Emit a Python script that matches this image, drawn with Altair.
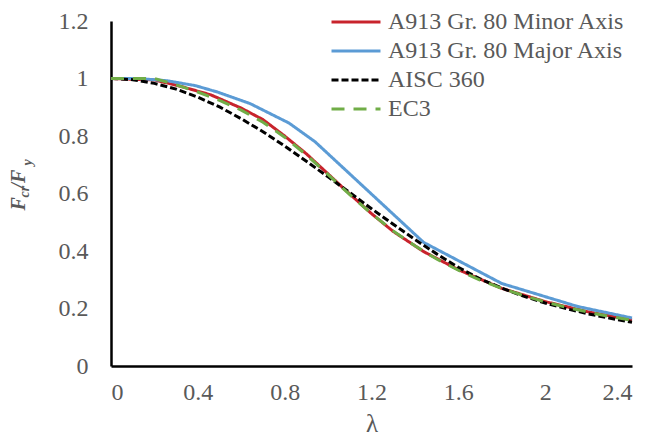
import altair as alt
import pandas as pd

# ---- data ----
minor_x = [0, 0.2, 0.32, 0.46, 0.6, 0.7, 0.8, 0.9, 1.0, 1.1, 1.2, 1.3, 1.44, 1.6, 1.8, 2.0, 2.2, 2.4]
minor_y = [1.0, 0.995, 0.973, 0.943, 0.897, 0.857, 0.80, 0.738, 0.668, 0.598, 0.53, 0.468, 0.398, 0.335, 0.27, 0.224, 0.188, 0.16]

major_x = [0, 0.13, 0.26, 0.39, 0.49, 0.64, 0.82, 0.94, 1.44, 1.8, 2.15, 2.4]
major_y = [1.0, 1.0, 0.992, 0.975, 0.953, 0.913, 0.845, 0.78, 0.43, 0.287, 0.207, 0.167]

aisc_x = [0, 0.1, 0.2, 0.3, 0.4, 0.5, 0.6, 0.7, 0.8, 0.9, 1.0, 1.1, 1.2, 1.3, 1.4, 1.5, 1.6, 1.7, 1.8, 1.9, 2.0, 2.1, 2.2, 2.3, 2.4]
aisc_y = [1.0, 0.996, 0.983, 0.963, 0.935, 0.901, 0.86, 0.815, 0.765, 0.712, 0.658, 0.603, 0.547, 0.493, 0.44, 0.39, 0.343, 0.303, 0.271, 0.243, 0.219, 0.199, 0.181, 0.166, 0.152]

ec3_x = [0, 0.1, 0.2, 0.3, 0.4, 0.5, 0.6, 0.7, 0.8, 0.9, 1.0, 1.1, 1.2, 1.3, 1.4, 1.5, 1.6, 1.7, 1.8, 1.9, 2.0, 2.1, 2.2, 2.3, 2.4]
ec3_y = [1.0, 1.0, 1.0, 0.978, 0.953, 0.924, 0.89, 0.848, 0.796, 0.734, 0.666, 0.596, 0.53, 0.47, 0.418, 0.372, 0.333, 0.299, 0.27, 0.245, 0.223, 0.204, 0.187, 0.172, 0.159]

series_names = ["A913 Gr. 80 Minor Axis", "A913 Gr. 80 Major Axis", "AISC 360", "EC3"]
series_colors = ["#C8232C", "#5B9BD5", "#000000", "#70AD47"]
series_dashes = [[1, 0], [1, 0], [7, 3], [13, 9]]
series_widths = [3, 3, 3.5, 3]

x_ticks = [0, 0.4, 0.8, 1.2, 1.6, 2.0, 2.4]
y_ticks = [0, 0.2, 0.4, 0.6, 0.8, 1.0, 1.2]

rows = []
for name, xs, ys in zip(series_names, [minor_x, major_x, aisc_x, ec3_x], [minor_y, major_y, aisc_y, ec3_y]):
    for i, (a, b) in enumerate(zip(xs, ys)):
        rows.append({"lam": a, "val": b, "series": name, "order": i})
df = pd.DataFrame(rows)

FONT = "Liberation Serif, Times New Roman, serif"
GREY = "#595959"

legend = alt.Legend(
    title=None, orient="none", legendX=231, legendY=-13,
    labelFont=FONT, labelFontSize=24, labelColor=GREY, labelLimit=0,
    symbolType="M-2,0L2,0", symbolSize=600, symbolStrokeWidth=3,
    labelOffset=18, rowPadding=3, padding=0,
)

lines = alt.Chart(df).mark_line().encode(
    x=alt.X("lam:Q", scale=alt.Scale(domain=[0, 2.4], nice=False),
            axis=alt.Axis(values=x_ticks, format="~g", title="λ", grid=False, ticks=False,
                          domainColor="black", domainWidth=2.5,
                          labelFont=FONT, labelFontSize=24, labelColor=GREY, labelPadding=14,
                          titleFont=FONT, titleFontSize=25, titleColor=GREY, titleFontWeight="normal",
                          titlePadding=7)),
    y=alt.Y("val:Q", scale=alt.Scale(domain=[0, 1.2], nice=False),
            axis=alt.Axis(values=y_ticks, format="~g", title=None, grid=False, ticks=False,
                          domainColor="black", domainWidth=2.5,
                          labelFont=FONT, labelFontSize=24, labelColor=GREY, labelPadding=23)),
    color=alt.Color("series:N", scale=alt.Scale(domain=series_names, range=series_colors), legend=legend),
    strokeDash=alt.StrokeDash("series:N", scale=alt.Scale(domain=series_names, range=series_dashes), legend=legend),
    strokeWidth=alt.StrokeWidth("series:N", scale=alt.Scale(domain=series_names, range=series_widths), legend=None),
    order="order:Q",
)

# y-axis title F_cr/F_y built from pieces (rotated)
title_pieces = pd.DataFrame([
    {"t": "F", "px": -85.7, "py": 189.5, "fs": 20},
    {"t": "cr", "px": -82.5, "py": 176.5, "fs": 14},
    {"t": "/F", "px": -85.7, "py": 167.5, "fs": 20},
    {"t": "y", "px": -79.5, "py": 144.5, "fs": 14},
])

def piece(r):
    return alt.Chart(pd.DataFrame([{"t": r["t"]}])).mark_text(
        font=FONT, fontStyle="italic", fontWeight="bold", fontSize=r["fs"], color=GREY,
        angle=270, align="left", baseline="alphabetic"
    ).encode(x=alt.value(r["px"]), y=alt.value(r["py"]), text="t:N")

layers = [lines] + [piece(r) for _, r in title_pieces.iterrows()]

chart = alt.layer(*layers).properties(
    width=521, height=345,
    autosize=alt.AutoSizeParams(type="none"),
    padding={"left": 111, "top": 21, "right": 33, "bottom": 70},
).configure_view(stroke=None)

chart.save("out.html", embed_options={"renderer": "svg", "actions": False})
